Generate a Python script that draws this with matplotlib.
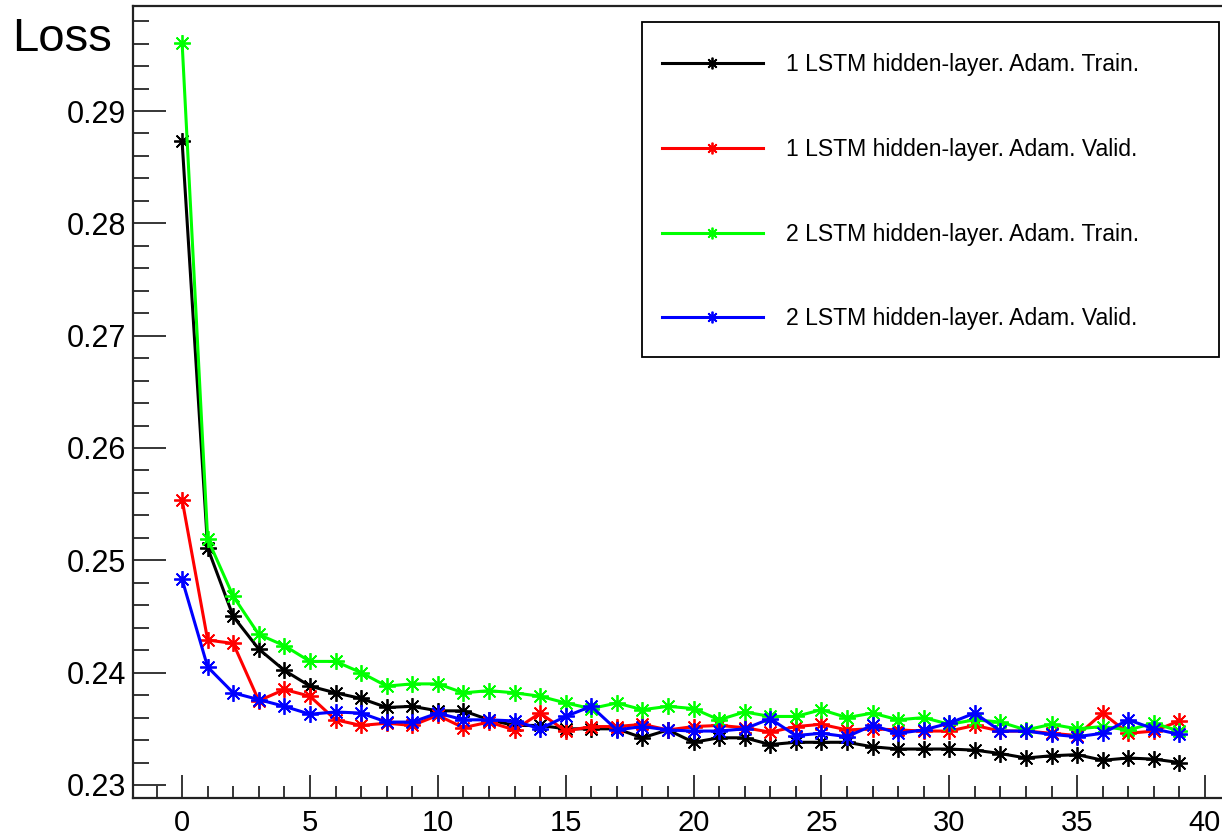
import matplotlib
matplotlib.use("Agg")
import matplotlib.pyplot as plt
from matplotlib.ticker import MultipleLocator
from matplotlib.patches import Rectangle

plt.rcParams['font.family'] = ['Liberation Sans', 'DejaVu Sans']

epochs = list(range(40))

lstm1_train = [0.2873, 0.2511, 0.2450, 0.2421, 0.2402, 0.2388, 0.2382, 0.2377, 0.2369, 0.2370,
               0.2366, 0.2366, 0.2358, 0.2353, 0.2353, 0.2350, 0.2350, 0.2350, 0.2342, 0.2349,
               0.2338, 0.2342, 0.2342, 0.2336, 0.2338, 0.2338, 0.2338, 0.2334, 0.2332, 0.2332,
               0.2332, 0.2331, 0.2328, 0.2324, 0.2326, 0.2327, 0.2322, 0.2324, 0.2323, 0.2320]
lstm1_valid = [0.2554, 0.2429, 0.2426, 0.2375, 0.2385, 0.2379, 0.2358, 0.2353, 0.2355, 0.2353,
               0.2362, 0.2351, 0.2356, 0.2349, 0.2364, 0.2348, 0.2352, 0.2352, 0.2354, 0.2349,
               0.2352, 0.2353, 0.2351, 0.2347, 0.2352, 0.2354, 0.2349, 0.2350, 0.2349, 0.2348,
               0.2348, 0.2353, 0.2348, 0.2348, 0.2346, 0.2344, 0.2364, 0.2346, 0.2348, 0.2357]
lstm2_train = [0.2961, 0.2519, 0.2468, 0.2434, 0.2424, 0.2410, 0.2410, 0.2400, 0.2388, 0.2390,
               0.2390, 0.2382, 0.2384, 0.2382, 0.2379, 0.2373, 0.2368, 0.2373, 0.2367, 0.2370,
               0.2368, 0.2358, 0.2365, 0.2361, 0.2361, 0.2367, 0.2360, 0.2364, 0.2358, 0.2360,
               0.2354, 0.2358, 0.2356, 0.2349, 0.2354, 0.2350, 0.2352, 0.2349, 0.2355, 0.2348]
lstm2_valid = [0.2483, 0.2405, 0.2382, 0.2376, 0.2370, 0.2363, 0.2365, 0.2364, 0.2356, 0.2356,
               0.2364, 0.2358, 0.2358, 0.2357, 0.2350, 0.2361, 0.2370, 0.2349, 0.2352, 0.2349,
               0.2348, 0.2348, 0.2350, 0.2359, 0.2344, 0.2346, 0.2343, 0.2353, 0.2346, 0.2349,
               0.2355, 0.2364, 0.2348, 0.2348, 0.2345, 0.2343, 0.2346, 0.2358, 0.2350, 0.2345]

series = [
    (lstm1_train, "#000000", "1 LSTM hidden-layer. Adam. Train."),
    (lstm1_valid, "#ff0000", "1 LSTM hidden-layer. Adam. Valid."),
    (lstm2_train, "#00ff00", "2 LSTM hidden-layer. Adam. Train."),
    (lstm2_valid, "#0000ff", "2 LSTM hidden-layer. Adam. Valid."),
]

W, H = 1222, 836
fig = plt.figure(figsize=(W / 100, H / 100), dpi=100)

# axes frame in pixels
left_px, right_px, top_px, bottom_px = 133, 1229, 6, 798
ax = fig.add_axes([left_px / W, 1 - bottom_px / H, (right_px - left_px) / W, (bottom_px - top_px) / H])

asterisk = (8, 2, 0)
for vals, col, lab in series:
    ax.plot(epochs, vals, color=col, lw=2.2, marker=asterisk, ms=12, mew=1.3, label=lab)

ax.set_xlim(-1.92, 40.94)
ax.set_ylim(0.22884, 0.29935)

ax.xaxis.set_major_locator(MultipleLocator(5))
ax.xaxis.set_minor_locator(MultipleLocator(1))
ax.yaxis.set_major_locator(MultipleLocator(0.01))
ax.yaxis.set_minor_locator(MultipleLocator(0.002))
ax.yaxis.set_major_formatter(matplotlib.ticker.FormatStrFormatter('%.2f'))

ax.tick_params(axis='x', which='major', direction='in', length=16.5, width=1.1, labelsize=21, pad=8)
ax.tick_params(axis='x', which='minor', direction='in', length=8.6, width=1.1)
ax.tick_params(axis='y', which='major', direction='in', length=23.8, width=1.1, labelsize=22, pad=5)
ax.tick_params(axis='y', which='minor', direction='in', length=11.5, width=1.1)
ax.tick_params(top=False, right=False, which='both')

for s in ax.spines.values():
    s.set_linewidth(1.6)
    s.set_color('#222222')

fig.text(12 / W, 1 - 51 / H, "Loss", fontsize=34, ha='left', va='baseline')

# legend frame
lx0, lx1, ly0, ly1 = 642, 1219, 22, 357
fig.patches.append(Rectangle((lx0 / W, 1 - ly1 / H), (lx1 - lx0) / W, (ly1 - ly0) / H,
                             transform=fig.transFigure, fill=True, facecolor='white',
                             edgecolor='black', lw=1.3, zorder=5))

handles, labels = ax.get_legend_handles_labels()
leg = fig.legend(handles, labels, loc='upper left', bbox_to_anchor=(662 / W, 1 - 53 / H),
                 frameon=False, fontsize=16.6, handlelength=4.38, handletextpad=1.0,
                 labelspacing=2.68, borderpad=0, borderaxespad=0, markerscale=0.7)
leg.set_zorder(6)

fig.savefig("out.png", dpi=100)
